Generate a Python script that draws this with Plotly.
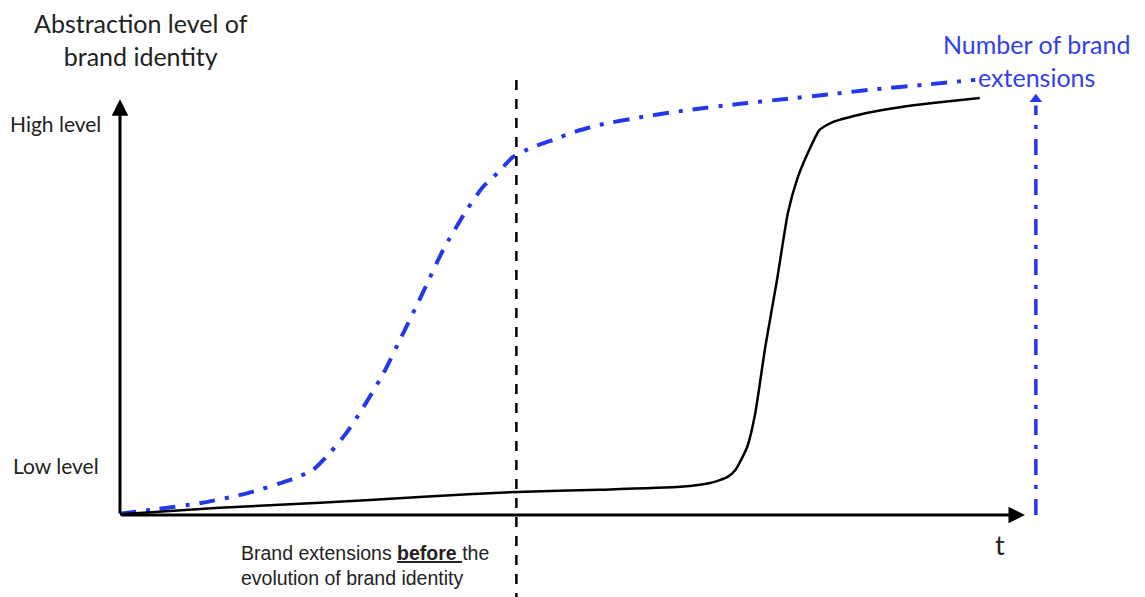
import plotly.graph_objects as go

# Data. x: time t, y: abstraction level / number of extensions
identity_t = [0, 1.10, 2.21, 3.31, 4.39, 5.30, 6.19, 6.52, 6.71, 6.80, 6.93, 7.02, 7.13, 7.26, 7.38,
              7.48, 7.59, 7.73, 7.88, 8.25, 8.62, 8.98, 9.50]
identity_level = [0.02, 0.17, 0.29, 0.43, 0.55, 0.60, 0.67, 0.76, 0.90, 1.07, 1.62, 2.43, 4.0, 5.60, 7.19,
                  7.98, 8.57, 9.17, 9.36, 9.57, 9.71, 9.81, 9.93]

extensions_t = [0, 0.41, 0.91, 1.41, 1.91, 2.13, 2.32, 2.50, 2.67, 2.90, 3.13, 3.35, 3.57, 3.83, 4.01,
                4.17, 4.34, 4.56, 4.78, 5.05, 5.30, 5.78, 6.27, 6.85, 7.33, 7.85, 8.36, 8.87, 9.45]
extensions_n = [0.03, 0.14, 0.29, 0.52, 0.86, 1.07, 1.48, 1.95, 2.50, 3.33, 4.33, 5.31, 6.31, 7.26, 7.81,
                8.14, 8.52, 8.76, 8.93, 9.14, 9.29, 9.48, 9.64, 9.79, 9.90, 10.02, 10.14, 10.24, 10.36]

divider_t = 4.38
ext_axis_t = 10.12

y_labels = ["Low level", "High level"]
y_label_vals = [1.17, 9.31]

BLUE = "rgb(35,55,235)"
BLACK = "#000000"

fig = go.Figure()

fig.add_trace(go.Scatter(x=extensions_t, y=extensions_n, mode="lines",
                         line=dict(color=BLUE, width=4, dash="16px,10px,4px,10px", shape="spline", smoothing=0.6),
                         hoverinfo="skip", showlegend=False))
fig.add_trace(go.Scatter(x=identity_t, y=identity_level, mode="lines",
                         line=dict(color=BLACK, width=2.5, shape="spline", smoothing=0.5),
                         hoverinfo="skip", showlegend=False))

# Vertical divider
fig.add_trace(go.Scatter(x=[divider_t, divider_t], y=[10.36, -1.95], mode="lines",
                         line=dict(color=BLACK, width=2.5, dash="10px,9px"),
                         hoverinfo="skip", showlegend=False))

# Blue extension axis with arrow
fig.add_trace(go.Scatter(x=[ext_axis_t, ext_axis_t], y=[0, 9.75], mode="lines",
                         line=dict(color=BLUE, width=3.5, dash="16px,10px,4px,10px"),
                         hoverinfo="skip", showlegend=False))
fig.add_trace(go.Scatter(x=[ext_axis_t], y=[9.9], mode="markers",
                         marker=dict(symbol="triangle-up", size=11, color=BLUE),
                         hoverinfo="skip", showlegend=False))

# Axes arrows
fig.add_annotation(x=0, y=9.9, ax=0, ay=0, xref="x", yref="y", axref="x", ayref="y",
                   showarrow=True, arrowhead=2, arrowsize=1.1, arrowwidth=3, arrowcolor=BLACK, text="")
fig.add_annotation(x=10.0, y=0, ax=0, ay=0, xref="x", yref="y", axref="x", ayref="y",
                   showarrow=True, arrowhead=2, arrowsize=1.1, arrowwidth=3, arrowcolor=BLACK, text="")

txt = dict(showarrow=False, xref="x", yref="y")
LATO = "Lato, Open Sans, sans-serif"
fig.add_annotation(x=0.23, y=11.31, text="Abstraction level of<br>brand identity",
                   font=dict(family=LATO, size=25, color="#222"), align="center", **txt)
for lab, v in zip(y_labels, y_label_vals):
    fig.add_annotation(x=-0.71, y=v, text=lab, font=dict(family=LATO, size=21, color="#222"), **txt)
fig.add_annotation(x=10.13, y=10.81, text="Number of brand<br>extensions",
                   font=dict(family=LATO, size=25, color="rgb(50,65,232)"), align="center", **txt)
fig.add_annotation(x=9.72, y=-0.71, text="t", font=dict(family=LATO, size=27, color="#222"), **txt)
fig.add_annotation(x=2.71, y=-1.20,
                   text="Brand extensions <b><u>before </u></b>the<br>evolution of brand identity",
                   font=dict(family="Liberation Sans, Arial, sans-serif", size=19.5, color="#222"),
                   align="left", **txt)

fig.update_xaxes(range=[-120/90.5, 1025/90.5], visible=False, fixedrange=True)
fig.update_yaxes(range=[-82/42, 515/42], visible=False, fixedrange=True)
fig.update_layout(width=1145, height=597, margin=dict(l=0, r=0, t=0, b=0),
                  plot_bgcolor="white", paper_bgcolor="white", showlegend=False)

fig.write_html("out.html", config={"displayModeBar": False},
               post_script="document.body.style.margin='0px';")
